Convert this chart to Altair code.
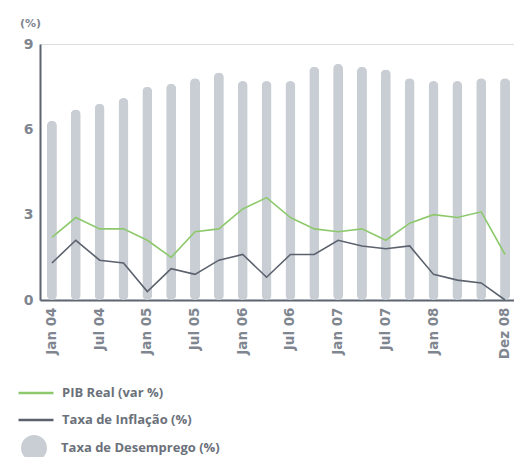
import altair as alt
import pandas as pd

periodos = ["Jan 04", "Abr 04", "Jul 04", "Out 04", "Jan 05", "Abr 05", "Jul 05", "Out 05",
            "Jan 06", "Abr 06", "Jul 06", "Out 06", "Jan 07", "Abr 07", "Jul 07", "Out 07",
            "Jan 08", "Abr 08", "Jul 08", "Dez 08"]
rotulos = ["Jan 04", "Jul 04", "Jan 05", "Jul 05", "Jan 06", "Jul 06", "Jan 07", "Jul 07", "Jan 08", "Dez 08"]
desemprego = [6.3, 6.7, 6.9, 7.1, 7.5, 7.6, 7.8, 8.0, 7.7, 7.7, 7.7, 8.2, 8.3, 8.2, 8.1, 7.8, 7.7, 7.7, 7.8, 7.8]
pib = [2.2, 2.9, 2.5, 2.5, 2.1, 1.5, 2.4, 2.5, 3.2, 3.6, 2.9, 2.5, 2.4, 2.5, 2.1, 2.7, 3.0, 2.9, 3.1, 1.6]
inflacao = [1.3, 2.1, 1.4, 1.3, 0.3, 1.1, 0.9, 1.4, 1.6, 0.8, 1.6, 1.6, 2.1, 1.9, 1.8, 1.9, 0.9, 0.7, 0.6, 0.0]

serie_pib = "PIB Real (var %)"
serie_inf = "Taxa de Inflação (%)"
serie_des = "Taxa de Desemprego (%)"

AX_FONT = "DejaVu Sans"
LG_FONT = "Open Sans"
AXIS_COL = "#5d6570"
LABEL_COL = "#7f868f"
LEGEND_COL = "#6b717a"

bars_df = pd.DataFrame({"periodo": periodos, "valor": desemprego, "serie": serie_des})
lines_df = pd.concat([
    pd.DataFrame({"periodo": periodos, "valor": pib, "serie": serie_pib, "ordem": 0}),
    pd.DataFrame({"periodo": periodos, "valor": inflacao, "serie": serie_inf, "ordem": 1}),
])

x_enc = alt.X("periodo:N", sort=periodos, title=None,
              scale=alt.Scale(paddingInner=0, paddingOuter=0, range=[0, 477]),
              axis=alt.Axis(values=rotulos, labelAngle=-90, tickSize=0, labelPadding=7,
                            labelFont=AX_FONT, labelFontWeight="bold", labelFontSize=13.5,
                            labelColor=LABEL_COL, domainColor=AXIS_COL, domainWidth=2,
                            labelBaseline="middle", labelAlign="right"))

y_enc = alt.Y("valor:Q", scale=alt.Scale(domain=[0, 9]),
              axis=alt.Axis(values=[0, 3, 6, 9], tickSize=0, grid=False, labelPadding=7,
                            labelFont=AX_FONT, labelFontWeight="bold", labelFontSize=14,
                            labelColor=LABEL_COL, domainColor=AXIS_COL, domainWidth=2,
                            title="(%)", titleAngle=0, titleAlign="center", titleBaseline="middle",
                            titleX=-10, titleY=-21, titleFont=AX_FONT, titleFontWeight="bold",
                            titleFontSize=11, titleColor=LABEL_COL))

bars = alt.Chart(bars_df).mark_bar(size=10, cornerRadius=5).encode(
    x=x_enc,
    y=y_enc,
    fill=alt.Fill("serie:N", scale=alt.Scale(domain=[serie_des], range=["#c9ced5"]),
                  legend=alt.Legend(title=None, orient="none", legendX=-19, legendY=391,
                                    symbolType="circle", symbolSize=676, symbolStrokeWidth=0,
                                    labelFont=LG_FONT, labelFontWeight="bold", labelFontSize=13,
                                    labelColor=LEGEND_COL, labelOffset=14, padding=0)),
)

lines = alt.Chart(lines_df).mark_line(strokeWidth=1.6).encode(
    x=alt.X("periodo:N", sort=periodos),
    y=alt.Y("valor:Q"),
    color=alt.Color("serie:N", scale=alt.Scale(domain=[serie_pib, serie_inf], range=["#8dc96c", "#5b626d"]),
                    legend=alt.Legend(title=None, orient="none", legendX=-18, legendY=335,
                                      symbolType="M-1.4,0H1.4", symbolSize=625, symbolStrokeWidth=2.5,
                                      labelFont=LG_FONT, labelFontWeight="bold", labelFontSize=13,
                                      labelColor=LEGEND_COL, labelOffset=12, rowPadding=6, padding=0)),
    detail="ordem:N",
)

chart = alt.layer(bars, lines).resolve_scale(color="independent").properties(
    width=474, height=256,
    autosize=alt.AutoSizeParams(type="none"),
    padding={"left": 32, "top": 36, "right": 0, "bottom": 157},
).configure_view(stroke=None).configure(background="white")

chart.save("out.html", embed_options={"renderer": "svg", "actions": False})
